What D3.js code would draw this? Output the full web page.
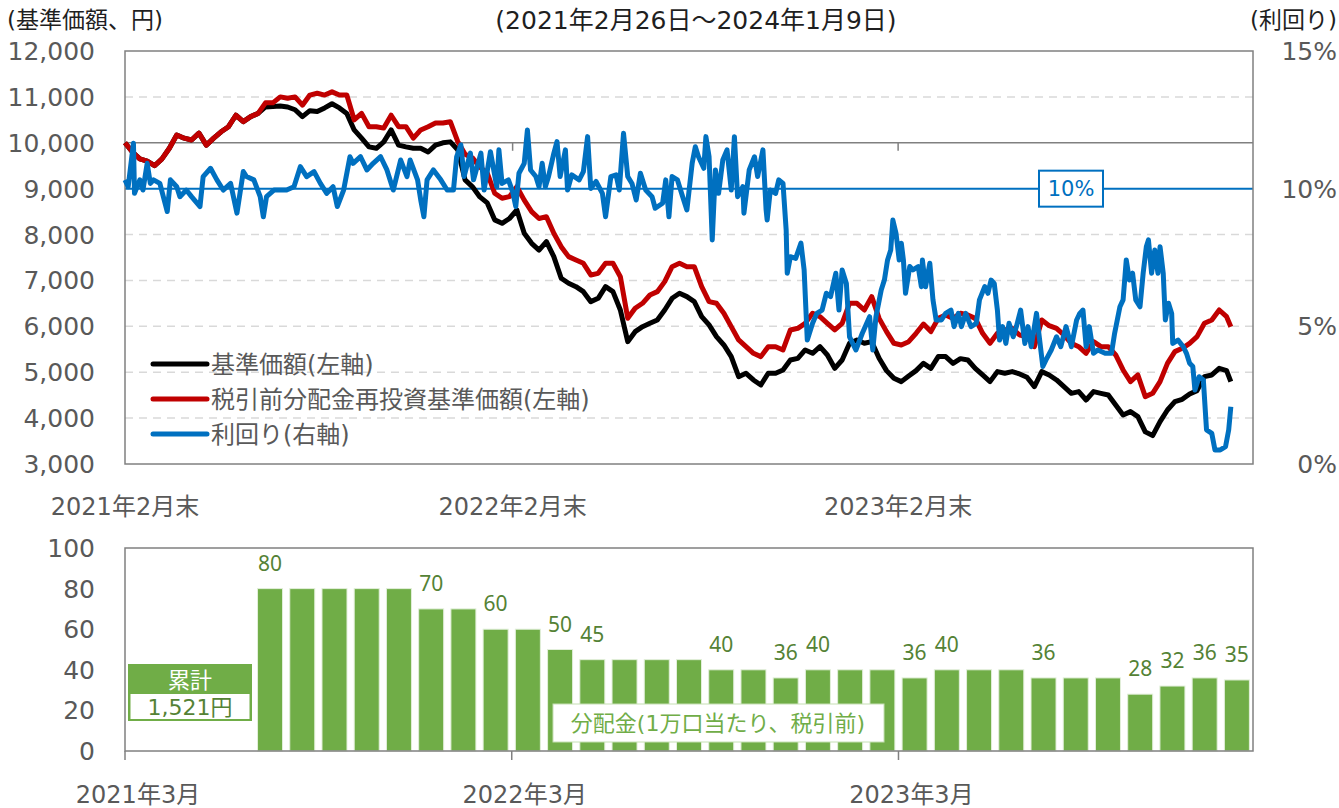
<!DOCTYPE html>
<html>
<head>
<meta charset="utf-8">
<script src="https://cdn.jsdelivr.net/npm/d3@7"></script>
<style>
    body { margin: 0; background: #ffffff; }
    svg text { font-family: "DejaVu Sans", "Noto Sans CJK JP", sans-serif; }
</style>
</head>
<body>
<div class="chartDiv"></div>
<script>
"use strict"

// 期間
var startDate = new Date(2021, 1, 26);
var axisEndDate = new Date(2024, 0, 30);

// 基準価額 / 税引前分配金再投資基準価額 (週次, 最後は2024/1/9)
var navValues = [
    10000, 9800, 9650, 9600, 9500, 9650, 9880, 10170, 10100, 10060,
    10210, 9950, 10100, 10240, 10350, 10600, 10460, 10570, 10640, 10780,
    10790, 10800, 10780, 10720, 10570, 10700, 10680, 10760, 10850, 10760,
    10640, 10280, 10100, 9910, 9880, 10020, 10280, 9950, 9910, 9880,
    9880, 9800, 9950, 10000, 10020, 9850, 9190, 9040, 8820, 8690,
    8320, 8245, 8350, 8535, 8030, 7809, 7660, 7845, 7519, 7047,
    6938, 6864, 6756, 6538, 6611, 6864, 6756, 6356, 5666, 5884,
    5993, 6066, 6138, 6356, 6611, 6720, 6647, 6538, 6210, 6030,
    5775, 5594, 5340, 4903, 4977, 4831, 4722, 4977, 4977, 5049,
    5267, 5303, 5485, 5413, 5557, 5376, 5085, 5267, 5630, 5703,
    5630, 5666, 5303, 5035, 4867, 4795, 4918, 5035, 5194, 5085,
    5340, 5340, 5194, 5296, 5267, 5085, 4940, 4795, 5013, 4977,
    5013, 4962, 4889, 4686, 5013, 4940, 4831, 4686, 4540, 4577,
    4395, 4577, 4540, 4505, 4286, 4068, 4141, 4032, 3700, 3620,
    3923, 4177, 4359, 4410, 4526, 4599, 4903, 4940, 5085, 5035,
    4795
];

var reinvestValues = [
    10000, 9800, 9650, 9600, 9500, 9650, 9880, 10170, 10100, 10060,
    10210, 9950, 10100, 10240, 10350, 10600, 10460, 10570, 10640, 10870,
    10870, 11000, 10970, 11000, 10820, 11040, 11080, 11040, 11110, 11040,
    11040, 10500, 10640, 10350, 10350, 10320, 10600, 10350, 10350, 10100,
    10280, 10350, 10430, 10430, 10460, 10030, 9750, 9670, 9470, 9340,
    8900, 8790, 8826, 9043, 8750, 8500, 8350, 8390, 8030, 7736,
    7519, 7446, 7373, 7120, 7155, 7373, 7373, 7082, 6175, 6393,
    6502, 6683, 6756, 6974, 7300, 7373, 7300, 7300, 6865, 6538,
    6502, 6284, 5993, 5703, 5557, 5413, 5340, 5557, 5557, 5485,
    5921, 5957, 6066, 6284, 6210, 6066, 5921, 6066, 6502, 6502,
    6356, 6647, 6174, 5885, 5630, 5594, 5666, 5848, 6050, 5885,
    6174, 6247, 6174, 6284, 6247, 6174, 5848, 5630, 5848, 5921,
    5957, 5811, 5775, 5557, 6138, 6015, 5957, 5811, 5630, 5557,
    5413, 5666, 5557, 5557, 5376, 5049, 4795, 4940, 4468, 4540,
    4795, 5194, 5449, 5521, 5630, 5775, 6066, 6138, 6356, 6210,
    5993
];

// 利回り(%) : 2021/2/26からの経過日数と値
var yieldDays = [
    0, 3, 8, 9, 14, 17, 21, 24, 27, 33, 40, 43, 49, 52, 58, 63, 71, 74, 81, 87,
    93, 100, 106, 112, 115, 122, 128, 131, 134, 141, 147, 153, 160, 166, 172, 179, 185, 191, 197, 201,
    207, 213, 216, 223, 229, 235, 242, 248, 254, 261, 267, 270, 277, 280, 283, 286, 292, 299, 305, 311,
    314, 318, 321, 327, 330, 337, 340, 346, 352, 354, 357, 363, 367, 370, 373, 378, 381, 384, 389, 392,
    395, 398, 401, 406, 409, 412, 417, 419, 423, 430, 434, 438, 441, 446, 452, 455, 460, 465, 468, 472,
    476, 480, 484, 488, 493, 499, 502, 509, 512, 515, 518, 523, 528, 532, 537, 540, 543, 548, 550, 553,
    556, 559, 562, 566, 570, 574, 577, 580, 585, 586, 591, 596, 599, 604, 607, 608, 611, 616, 619, 623,
    626, 627, 630, 635, 640, 643, 646, 651, 655, 660, 664, 668, 673, 676, 679, 683, 686, 692, 698, 705,
    708, 711, 716, 719, 722, 725, 727, 730, 733, 735, 737, 739, 743, 746, 751, 754, 755, 758, 762, 765,
    768, 773, 777, 782, 785, 789, 792, 796, 801, 806, 809, 814, 817, 820, 823, 826, 828, 831, 834, 837,
    841, 844, 848, 852, 855, 858, 863, 866, 869, 872, 877, 882, 886, 891, 896, 901, 904, 907, 910, 913,
    917, 921, 928, 934, 937, 942, 945, 948, 951, 954, 957, 961, 964, 967, 969, 972, 975, 978, 980, 983,
    985, 988, 991, 992, 997, 1002, 1005, 1008, 1011, 1013, 1017, 1021, 1024, 1029, 1032, 1037, 1042, 1045, 1047
];

var yieldValues = [
    10.32, 10.07, 11.65, 9.83, 10.32, 9.95, 10.92, 10.19, 10.32, 10.19, 9.17, 10.32, 10.07, 9.71, 9.95, 9.71, 9.35, 10.44, 10.74, 10.32,
    9.95, 10.19, 9.11, 10.62, 10.44, 10.32, 9.71, 8.98, 9.71, 9.95, 9.95, 9.95, 10.07, 10.80, 10.44, 10.62, 10.19, 9.83, 10.07, 9.35,
    9.95, 11.16, 10.92, 11.16, 10.68, 10.92, 11.16, 10.68, 9.95, 11.04, 10.44, 11.04, 10.32, 9.59, 8.98, 10.32, 10.68, 10.32, 9.95, 9.95,
    11.16, 11.59, 10.44, 11.29, 10.32, 11.29, 9.95, 11.34, 10.07, 11.41, 10.19, 10.32, 9.89, 9.35, 10.56, 10.92, 12.13, 10.68, 10.44, 10.07,
    10.92, 10.07, 10.44, 11.28, 11.71, 10.44, 11.41, 9.95, 10.50, 10.32, 10.62, 11.89, 10.01, 10.26, 9.83, 8.98, 10.44, 10.50, 9.95, 12.01,
    10.44, 10.19, 9.59, 10.56, 9.95, 9.71, 9.29, 9.47, 10.32, 8.98, 10.44, 10.32, 9.71, 9.23, 10.92, 11.52, 11.16, 10.74, 11.89, 11.16,
    8.14, 10.68, 9.83, 11.04, 11.41, 9.95, 11.89, 9.71, 10.07, 9.11, 10.68, 11.16, 10.44, 11.41, 9.23, 8.86, 9.95, 9.83, 10.32, 10.19,
    8.50, 6.93, 7.53, 7.47, 8.02, 7.05, 4.50, 5.11, 5.47, 5.59, 6.20, 6.08, 6.93, 5.59, 7.05, 6.56, 4.62, 4.14, 4.74, 5.35,
    4.14, 5.35, 6.32, 6.68, 7.41, 7.77, 8.86, 8.38, 7.41, 8.02, 7.41, 6.20, 7.17, 7.05, 7.17, 6.44, 7.41, 6.44, 7.29, 5.96,
    5.23, 5.23, 5.47, 5.59, 4.99, 5.47, 4.99, 5.47, 4.99, 5.11, 5.96, 6.44, 6.20, 6.68, 6.56, 5.59, 4.50, 4.99, 4.38, 5.11,
    4.62, 4.99, 5.59, 4.38, 4.99, 4.26, 5.47, 4.50, 3.54, 3.78, 4.14, 4.62, 4.26, 4.99, 4.26, 5.23, 5.47, 5.59, 4.26, 4.99,
    4.02, 4.14, 4.02, 4.02, 4.75, 5.71, 5.96, 7.41, 6.68, 6.93, 5.96, 5.71, 6.93, 7.89, 8.14, 6.93, 7.77, 6.93, 7.89, 6.93,
    5.23, 5.84, 5.47, 4.38, 4.50, 4.26, 4.02, 3.66, 3.54, 2.69, 3.17, 3.05, 1.24, 1.11, 0.51, 0.51, 0.63, 1.24, 2.08
];

var yieldRefValue = 10;

var leftTicks = [3000, 4000, 5000, 6000, 7000, 8000, 9000, 10000, 11000, 12000];
var rightTicks = [0, 5, 10, 15];
var lineTickDates = [new Date(2021, 1, 26), new Date(2022, 1, 28), new Date(2023, 1, 28)];
var lineTickLabels = ["2021年2月末", "2022年2月末", "2023年2月末"];

// 分配金 (1万口当たり, 税引前)
var distMonths = [
    "2021/03", "2021/04", "2021/05", "2021/06", "2021/07", "2021/08", "2021/09", "2021/10", "2021/11", "2021/12",
    "2022/01", "2022/02", "2022/03", "2022/04", "2022/05", "2022/06", "2022/07", "2022/08", "2022/09", "2022/10",
    "2022/11", "2022/12", "2023/01", "2023/02", "2023/03", "2023/04", "2023/05", "2023/06", "2023/07", "2023/08",
    "2023/09", "2023/10", "2023/11", "2023/12", "2024/01"
];
var distValues = [
    0, 0, 0, 0, 80, 80, 80, 80, 80, 70,
    70, 60, 60, 50, 45, 45, 45, 45, 40, 40,
    36, 40, 40, 40, 36, 40, 40, 40, 36, 36,
    36, 28, 32, 36, 35
];
var distLabels = [
    "", "", "", "", "80", "", "", "", "", "70",
    "", "60", "", "50", "45", "", "", "", "40", "",
    "36", "40", "", "", "36", "40", "", "", "36", "",
    "", "28", "32", "36", "35"
];
var distTickMonths = ["2021/03", "2022/03", "2023/03"];
var distTickLabels = ["2021年3月", "2022年3月", "2023年3月"];
var distTicks = [0, 20, 40, 60, 80, 100];
var distTotalLabel = "1,521円";

var App = (function()
{
    var width = 1339;
    var height = 808;
    var plot = {left: 125, right: 1253, top: 51, bottom: 464};
    var bars = {left: 125, right: 1253, top: 548, bottom: 751};

    var axisGrey = "#808080";
    var gridGrey = "#d9d9d9";
    var tickText = "#595959";
    var titleText = "#1f1f1f";
    var green = "#70ad47";
    var darkGreen = "#548235";

    var svg = d3.select(".chartDiv").append("svg")
                    .attr("width", width)
                    .attr("height", height)
                    .attr("viewBox", "0 0 " + width + " " + height);

    var x = d3.scaleTime().domain([startDate, axisEndDate]).range([plot.left, plot.right]);
    var yLeft = d3.scaleLinear().domain([3000, 12000]).range([plot.bottom, plot.top]);
    var yRight = d3.scaleLinear().domain([0, 15]).range([plot.bottom, plot.top]);

    var navDates = navValues.map(function(d, i)
    {
        return i < navValues.length - 1 ? d3.timeDay.offset(startDate, 7 * i) : new Date(2024, 0, 9);
    });

    // ---- 上段 : 基準価額 ----
    var grid = svg.append("g").attr("class", "grid");
    grid.selectAll("line")
        .data(leftTicks.filter(function(t) { return t !== 3000 && t !== 12000 && t !== 9000 && t !== 10000 }))
        .enter().append("line")
        .attr("x1", plot.left).attr("x2", plot.right)
        .attr("y1", function(d) { return yLeft(d) }).attr("y2", function(d) { return yLeft(d) })
        .attr("stroke", gridGrey).attr("stroke-width", 1.5).attr("stroke-dasharray", "8,6");

    // 10,000円の基準線
    svg.append("line")
        .attr("x1", plot.left).attr("x2", plot.right)
        .attr("y1", yLeft(10000)).attr("y2", yLeft(10000))
        .attr("stroke", axisGrey).attr("stroke-width", 1.5);

    svg.selectAll(".xTickMark")
        .data(lineTickDates.slice(1))
        .enter().append("line")
        .attr("class", "xTickMark")
        .attr("x1", function(d) { return x(d) }).attr("x2", function(d) { return x(d) })
        .attr("y1", yLeft(10000)).attr("y2", yLeft(10000) + 8)
        .attr("stroke", axisGrey).attr("stroke-width", 1.5);

    // 利回り10%ライン
    svg.append("line")
        .attr("x1", plot.left).attr("x2", plot.right)
        .attr("y1", yRight(yieldRefValue)).attr("y2", yRight(yieldRefValue))
        .attr("stroke", "#0070c0").attr("stroke-width", 2);

    svg.append("rect")
        .attr("x", plot.left).attr("y", plot.top)
        .attr("width", plot.right - plot.left).attr("height", plot.bottom - plot.top)
        .attr("fill", "none").attr("stroke", axisGrey).attr("stroke-width", 1.5);

    var navLine = d3.line()
                    .x(function(d, i) { return x(navDates[i]) })
                    .y(function(d) { return yLeft(d) });

    var yieldLine = d3.line()
                    .x(function(d, i) { return x(d3.timeDay.offset(startDate, yieldDays[i])) })
                    .y(function(d) { return yRight(d) });

    svg.append("path").datum(navValues)
        .attr("d", navLine).attr("fill", "none")
        .attr("stroke", "#000000").attr("stroke-width", 5).attr("stroke-linejoin", "round");

    svg.append("path").datum(reinvestValues)
        .attr("d", navLine).attr("fill", "none")
        .attr("stroke", "#c00000").attr("stroke-width", 5).attr("stroke-linejoin", "round");

    svg.append("path").datum(yieldValues)
        .attr("d", yieldLine).attr("fill", "none")
        .attr("stroke", "#0070c0").attr("stroke-width", 5).attr("stroke-linejoin", "round");

    // 10% ラベル
    var refX = 1071;
    svg.append("rect")
        .attr("x", refX - 32).attr("y", yRight(yieldRefValue) - 18)
        .attr("width", 64).attr("height", 36)
        .attr("fill", "#ffffff").attr("stroke", "#0070c0").attr("stroke-width", 2);
    svg.append("text")
        .attr("x", refX).attr("y", yRight(yieldRefValue) + 7.5)
        .attr("text-anchor", "middle").attr("font-size", 21).attr("fill", "#0070c0")
        .text(yieldRefValue + "%");

    // 軸ラベル
    svg.append("g").selectAll("text")
        .data(leftTicks).enter().append("text")
        .attr("x", 95).attr("y", function(d) { return yLeft(d) + 9 })
        .attr("text-anchor", "end").attr("font-size", 25).attr("fill", tickText)
        .text(function(d) { return d3.format(",")(d) });

    svg.append("g").selectAll("text")
        .data(rightTicks).enter().append("text")
        .attr("x", 1337).attr("y", function(d) { return yRight(d) + 9 })
        .attr("text-anchor", "end").attr("font-size", 25).attr("fill", tickText)
        .text(function(d) { return d + "%" });

    svg.append("g").selectAll("text")
        .data(lineTickDates).enter().append("text")
        .attr("x", function(d) { return x(d) }).attr("y", 515)
        .attr("text-anchor", "middle").attr("font-size", 24).attr("fill", tickText)
        .text(function(d, i) { return lineTickLabels[i] });

    svg.append("text").attr("x", 7).attr("y", 28)
        .attr("font-size", 23).attr("fill", titleText).text("(基準価額、円)");
    svg.append("text").attr("x", 696).attr("y", 29)
        .attr("text-anchor", "middle").attr("font-size", 25).attr("fill", titleText)
        .text("(2021年2月26日～2024年1月9日)");
    svg.append("text").attr("x", 1337).attr("y", 28)
        .attr("text-anchor", "end").attr("font-size", 23).attr("fill", titleText).text("(利回り)");

    // 凡例
    var legendItems = [
        {label: "基準価額(左軸)", color: "#000000"},
        {label: "税引前分配金再投資基準価額(左軸)", color: "#c00000"},
        {label: "利回り(右軸)", color: "#0070c0"}
    ];
    var legend = svg.append("g").selectAll("g")
        .data(legendItems).enter().append("g")
        .attr("transform", function(d, i) { return "translate(153," + (364 + i * 35) + ")" });
    legend.append("line")
        .attr("x1", 0).attr("x2", 54).attr("y1", 0).attr("y2", 0)
        .attr("stroke", function(d) { return d.color }).attr("stroke-width", 5).attr("stroke-linecap", "round");
    legend.append("text")
        .attr("x", 58).attr("y", 9)
        .attr("font-size", 24).attr("fill", tickText)
        .text(function(d) { return d.label });

    // ---- 下段 : 分配金 ----
    var xb = d3.scaleBand().domain(distMonths).range([bars.left, bars.right])
                .paddingInner(0.224).paddingOuter(0.112);
    var yb = d3.scaleLinear().domain([0, 100]).range([bars.bottom, bars.top]);

    var distData = distValues.map(function(v, i) { return {month: distMonths[i], value: v, label: distLabels[i]} });

    svg.append("g").selectAll("rect")
        .data(distData.filter(function(d) { return d.value > 0 }))
        .enter().append("rect")
        .attr("x", function(d) { return xb(d.month) })
        .attr("y", function(d) { return yb(d.value) })
        .attr("width", xb.bandwidth())
        .attr("height", function(d) { return yb(0) - yb(d.value) })
        .attr("fill", green).attr("stroke", "#e2efda").attr("stroke-width", 1);

    svg.append("g").selectAll("text")
        .data(distData.filter(function(d) { return d.label !== "" }))
        .enter().append("text")
        .attr("x", function(d) { return xb(d.month) + xb.bandwidth() / 2 })
        .attr("y", function(d) { return yb(d.value) - 18 })
        .attr("text-anchor", "middle")
        .style("font-family", "'Noto Sans', sans-serif")
        .attr("font-size", 21).attr("fill", darkGreen)
        .text(function(d) { return d.label });

    svg.append("rect")
        .attr("x", bars.left).attr("y", bars.top)
        .attr("width", bars.right - bars.left).attr("height", bars.bottom - bars.top)
        .attr("fill", "none").attr("stroke", axisGrey).attr("stroke-width", 1.5);

    var step = xb.step();
    svg.append("g").selectAll("line")
        .data(distTickMonths).enter().append("line")
        .attr("x1", function(d) { return xb(d) - step * 0.112 }).attr("x2", function(d) { return xb(d) - step * 0.112 })
        .attr("y1", bars.bottom).attr("y2", bars.bottom + 9)
        .attr("stroke", axisGrey).attr("stroke-width", 1.5);

    svg.append("g").selectAll("text")
        .data(distTickMonths).enter().append("text")
        .attr("x", function(d) { return xb(d) - step * 0.112 + 13 }).attr("y", 803)
        .attr("text-anchor", "middle").attr("font-size", 24).attr("fill", tickText)
        .text(function(d, i) { return distTickLabels[i] });

    svg.append("g").selectAll("text")
        .data(distTicks).enter().append("text")
        .attr("x", 95).attr("y", function(d) { return yb(d) + 9 })
        .attr("text-anchor", "end").attr("font-size", 25).attr("fill", tickText)
        .text(function(d) { return d });

    // 累計ボックス
    svg.append("rect").attr("x", 128).attr("y", 664).attr("width", 124).attr("height", 57)
        .attr("fill", green);
    svg.append("rect").attr("x", 130.5).attr("y", 694).attr("width", 119).attr("height", 25)
        .attr("fill", "#ffffff");
    svg.append("text").attr("x", 190).attr("y", 688)
        .attr("text-anchor", "middle").attr("font-size", 22).attr("fill", "#ffffff").text("累計");
    svg.append("text").attr("x", 190).attr("y", 715)
        .attr("text-anchor", "middle").attr("font-size", 22).attr("fill", darkGreen).text(distTotalLabel);

    // 分配金ラベル
    svg.append("rect").attr("x", 553).attr("y", 704).attr("width", 331).attr("height", 38)
        .attr("fill", "#ffffff").attr("stroke", "#c5e0b4").attr("stroke-width", 1);
    svg.append("text").attr("x", 718).attr("y", 731)
        .attr("text-anchor", "middle").attr("font-size", 22).attr("fill", green)
        .text("分配金(1万口当たり、税引前)");

    return svg;
})();
</script>
</body>
</html>
